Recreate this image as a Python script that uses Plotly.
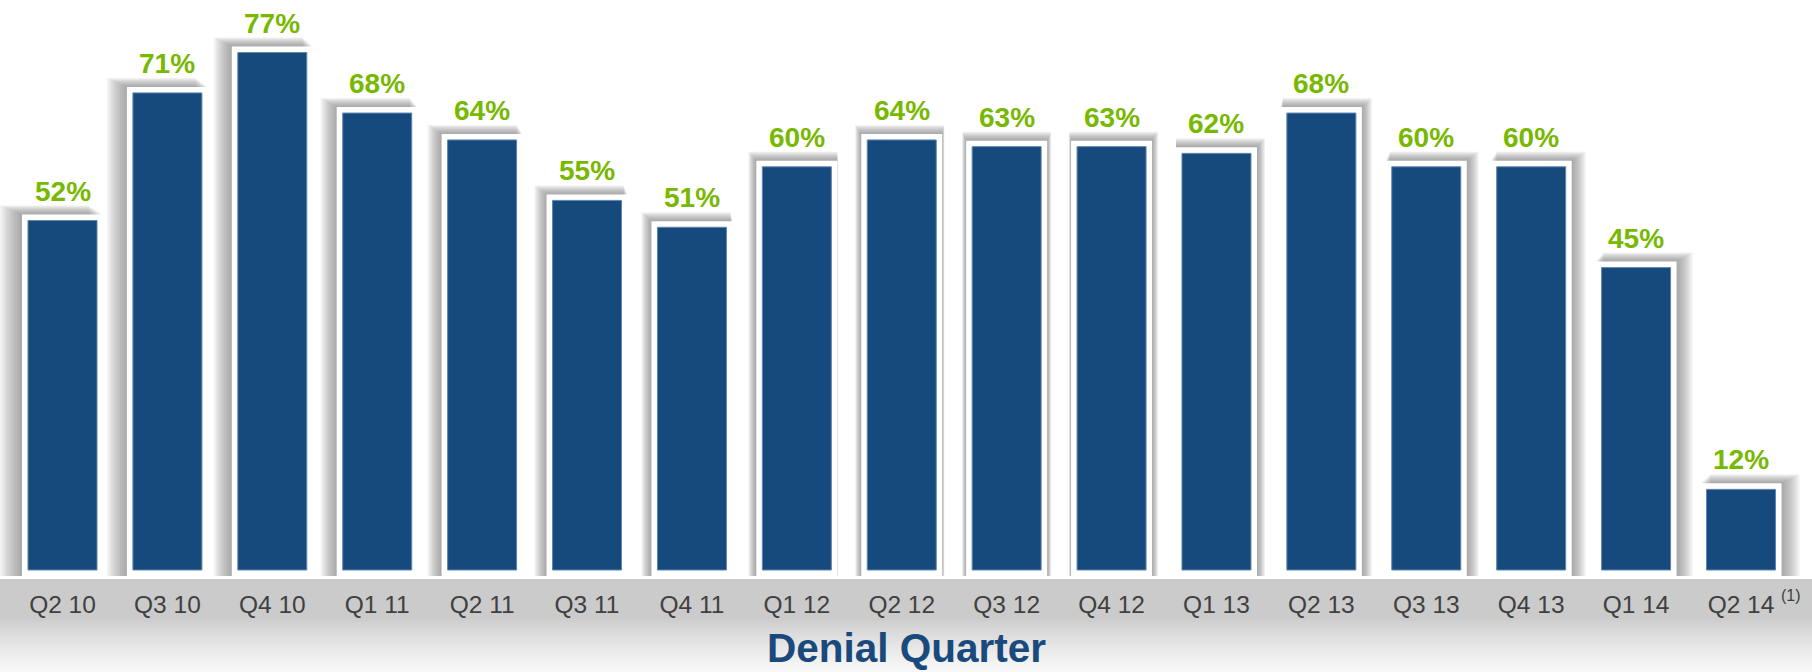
import plotly.graph_objects as go

# ---- data ----
quarters = ["Q2 10", "Q3 10", "Q4 10", "Q1 11", "Q2 11", "Q3 11", "Q4 11", "Q1 12", "Q2 12",
            "Q3 12", "Q4 12", "Q1 13", "Q2 13", "Q3 13", "Q4 13", "Q1 14", "Q2 14"]
denial_pct = [52, 71, 77, 68, 64, 55, 51, 60, 64, 63, 63, 62, 68, 60, 60, 45, 12]
value_labels = [f"{v}%" for v in denial_pct]
footnote_marker = "(1)"
axis_title = "Denial Quarter"

# ---- geometry / style ----
W, H = 1812, 672
PX_X = 104.906          # px per category
PX_Y = 6.72             # px per percent
BASE_PX = 570           # baseline pixel row
PLOT_BOTTOM = 576
first_center = 62.5

BLUE = "#174a7c"
GREEN = "#77b800"
FONT = "Liberation Sans, Arial"

x = list(range(len(quarters)))
n = len(x)
ux = 1.0 / PX_X
uy = 1.0 / PX_Y

blue_w = 69 * ux
frame_w = 81 * ux
border = 6 * uy

fig = go.Figure()

# soft shadows (layered translucent bars)
LAYERS = 9
for j in range(1, LAYERS + 1):
    f = j / LAYERS
    shifts = [2.0 * (i - 9) * f for i in x]
    widen = 8.0 * f
    fig.add_trace(go.Bar(
        x=x,
        y=[v + border * 2 + 9.0 * f * uy for v in denial_pct],
        base=-border,
        width=[frame_w + widen * ux] * n,
        offset=[(-81 / 2 - widen / 2 + s) * ux for s in shifts],
        marker=dict(color="rgba(120,120,120,0.095)", line=dict(width=0)),
        hoverinfo="skip", showlegend=False,
    ))

# white frame
fig.add_trace(go.Bar(
    x=x, y=[v + 2 * border for v in denial_pct], base=-border,
    width=[frame_w] * n,
    marker=dict(color="white", line=dict(width=0)),
    hoverinfo="skip", showlegend=False,
))

# blue bars
fig.add_trace(go.Bar(
    x=x, y=denial_pct, base=0,
    width=[blue_w] * n,
    marker=dict(color=BLUE, line=dict(color="#5f86b0", width=1)),
    showlegend=False,
))

# value labels
for i, v in enumerate(denial_pct):
    fig.add_annotation(
        x=x[i], y=v, xref="x", yref="y", text=value_labels[i],
        showarrow=False, yanchor="bottom", yshift=12,
        font=dict(family=FONT, size=28, color=GREEN, weight="bold"),
    )

# footnote marker on last tick
fig.add_annotation(
    x=x[-1], xref="x", y=(PLOT_BOTTOM - 595) / PLOT_BOTTOM, yref="paper",
    text=footnote_marker, showarrow=False, xshift=50, yanchor="middle",
    font=dict(family=FONT, size=16, color="#404040"),
)

# axis title
fig.add_annotation(
    x=0.5, xref="paper", y=(PLOT_BOTTOM - 648) / PLOT_BOTTOM, yref="paper",
    text=axis_title, showarrow=False, yanchor="middle",
    font=dict(family=FONT, size=40.5, color="#1a4a7c", weight="bold"),
)

# gray gradient band under the axis
shapes = []
y0 = 579
while y0 < H:
    y1 = min(y0 + 2, H)
    t = 0.0 if y0 < 618 else min(1.0, (y0 - 618) / 54.0)
    t = t ** 0.8
    g = int(round(203 + (250 - 203) * t))
    shapes.append(dict(
        type="rect", xref="paper", yref="paper", x0=0, x1=1,
        y0=(PLOT_BOTTOM - y1) / PLOT_BOTTOM, y1=(PLOT_BOTTOM - y0) / PLOT_BOTTOM,
        fillcolor=f"rgb({g},{g},{g})", line=dict(width=0), layer="below",
    ))
    y0 = y1

x_left = -first_center / PX_X
x_right = (W - first_center) / PX_X

fig.update_layout(
    width=W, height=H,
    margin=dict(l=0, r=0, t=0, b=H - PLOT_BOTTOM, pad=0),
    barmode="overlay",
    paper_bgcolor="white", plot_bgcolor="rgba(0,0,0,0)",
    shapes=shapes,
    xaxis=dict(
        range=[x_left, x_right], tickmode="array", tickvals=x, ticktext=quarters,
        showgrid=False, zeroline=False, showline=False, ticks="",
        tickfont=dict(family=FONT, size=24.5, color="#404040"),
        ticklabelstandoff=11, fixedrange=True,
    ),
    yaxis=dict(
        range=[-border, BASE_PX / PX_Y], showgrid=False, zeroline=False,
        showticklabels=False, showline=False, ticks="", fixedrange=True,
    ),
)

fig.write_html("out.html", config={"displayModeBar": False},
               post_script="document.body.style.margin='0';document.body.style.overflow='hidden';")
